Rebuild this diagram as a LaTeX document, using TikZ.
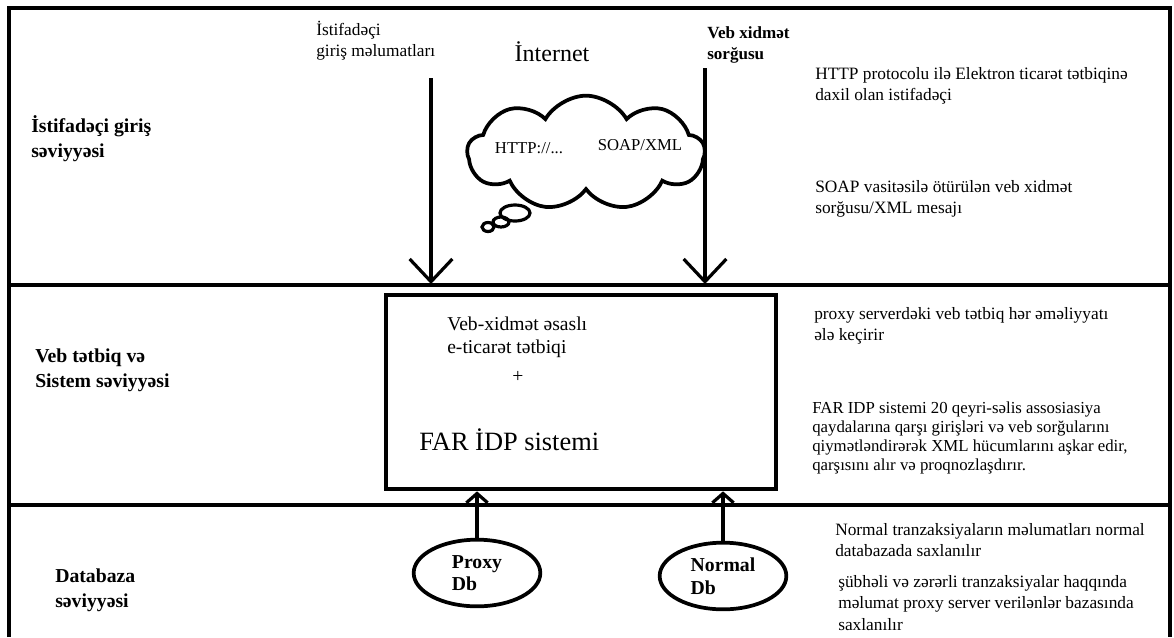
\documentclass[tikz,border=0pt]{standalone}
\usepackage{fontspec}
\setmainfont{Liberation Serif}
\usetikzlibrary{arrows.meta,shapes.geometric,shapes.symbols}

\begin{document}
\begin{tikzpicture}[x=0.75pt,y=-0.75pt,
  every node/.style={inner sep=0pt},
  levelname/.style={font=\bfseries\fontsize{14.8}{18.7}\selectfont,align=left,anchor=west},
  sidenote/.style={font=\fontsize{13}{15.8}\selectfont,align=left,anchor=west},
  dbnode/.style={draw,ellipse,line width=2.8pt,minimum width=95pt,minimum height=50pt,
    font=\bfseries\fontsize{14.8}{17}\selectfont,align=left},
  downarrow/.style={line width=2.4pt,-{Straight Barb[length=17pt,width=32pt,line width=2.4pt]}},
  uparrow/.style={line width=2.4pt,-{Straight Barb[length=7pt,width=16pt,line width=2.4pt]}}]
\useasboundingbox (0,0) rectangle (1174,637);

% Frame and levels
\draw[line width=3pt] (9,637) -- (9,8) -- (1170,8) -- (1170,637);
\draw[line width=3pt] (9,285) -- (1170,285);
\draw[line width=3pt] (9,505) -- (1170,505);

% Level names
\node[levelname] (lvluser) at (31,139) {İstifadəçi giriş\\səviyyəsi};
\node[levelname] (lvlapp) at (35,370) {Veb tətbiq və\\Sistem səviyyəsi};
\node[levelname] (lvldb) at (55,590) {Databaza\\səviyyəsi};

% Internet cloud
\node[font=\fontsize{18}{20}\selectfont] (inetlbl) at (552,52) {İnternet};
\node[cloud,draw,line width=2.8pt,cloud puffs=9,cloud puff arc=120,aspect=2.2,
  minimum width=178pt,minimum height=86pt] (inet) at (586,153) {};
\node[font=\fontsize{12.5}{14}\selectfont] (httptxt) at (529,148) {HTTP://...};
\node[font=\fontsize{12.5}{14}\selectfont] (soaptxt) at (640,145) {SOAP/XML};
\draw[line width=2.4pt] (515,213) ellipse (15 and 8);
\draw[line width=2.4pt] (501,222) ellipse (8 and 5);
\draw[line width=2.4pt] (488,227) ellipse (6 and 4.5);

% Incoming requests
\node[sidenote] (usrdata) at (316,41) {İstifadəçi\\giriş məlumatları};
\node[sidenote,font=\bfseries\fontsize{12.8}{15.8}\selectfont] (wsreq) at (707,45) {Veb xidmət\\sorğusu};
\coordinate (usrstart) at (431,78);
\coordinate (usrend) at (431,284);
\coordinate (wsstart) at (705,68);
\coordinate (wsend) at (705,284);
\draw[downarrow] (usrstart) -- (usrend);
\draw[downarrow] (wsstart) -- (wsend);

% Web application box
\node[draw,line width=3pt,minimum width=292pt,minimum height=146pt] (webapp) at (581,392) {};
\node[font=\fontsize{14.7}{17.3}\selectfont,align=left,anchor=west] (ecom) at (447,337) {Veb-xidmət əsaslı\\e-ticarət tətbiqi};
\node[font=\fontsize{14.7}{17.3}\selectfont] (plus) at (518,377) {+};
\node[font=\fontsize{19.8}{22}\selectfont,anchor=west] (faridp) at (419,440) {FAR İDP sistemi};

% Databases
\node[dbnode] (proxydb) at (477,573) {Proxy\\Db};
\node[dbnode] (normaldb) at (723,576) {Normal\\Db};
\draw[uparrow] (proxydb.north) -- (proxydb.north |- webapp.south);
\draw[uparrow] (normaldb.north) -- (normaldb.north |- webapp.south);

% Notes
\node[sidenote] (httpnote) at (815,86) {HTTP protocolu ilə Elektron ticarət tətbiqinə\\daxil olan istifadəçi};
\node[sidenote] (soapnote) at (815,199) {SOAP vasitəsilə ötürülən veb xidmət\\sorğusu/XML mesajı};
\node[sidenote] (proxynote) at (814,326) {proxy serverdəki veb tətbiq hər əməliyyatı\\ələ keçirir};
\node[sidenote,font=\fontsize{12.6}{14.4}\selectfont] (farnote) at (812,438) {FAR IDP sistemi 20 qeyri-səlis assosiasiya\\qaydalarına qarşı girişləri və veb sorğularını\\qiymətləndirərək XML hücumlarını aşkar edir,\\qarşısını alır və proqnozlaşdırır.};
\node[sidenote] (normalnote) at (835,540) {Normal tranzaksiyaların məlumatları normal\\databazada saxlanılır};
\node[sidenote] (suspnote) at (838,603) {şübhəli və zərərli tranzaksiyalar haqqında\\məlumat proxy server verilənlər bazasında\\saxlanılır};
\end{tikzpicture}
\end{document}
